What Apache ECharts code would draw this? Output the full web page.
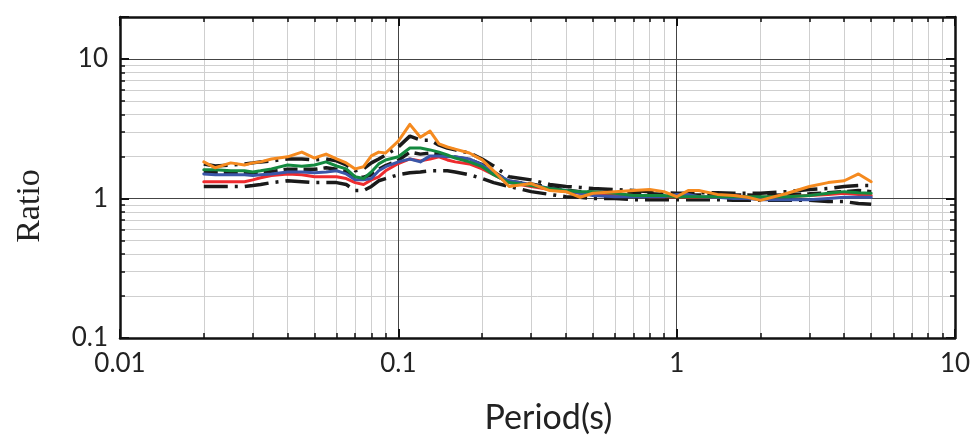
<!DOCTYPE html>
<html>
<head>
<meta charset="utf-8">
<script src="https://cdn.jsdelivr.net/npm/echarts@6/dist/echarts.min.js"></script>
<style>html,body{margin:0;padding:0;background:#fff}#c{width:974px;height:440px}</style>
</head>
<body>
<div id="c"></div>
<script>
const periods = [0.02,0.022,0.025,0.028,0.03,0.032,0.035,0.04,0.045,0.05,
  0.055,0.06,0.065,0.07,0.075,0.08,0.085,0.09,0.1,0.11,
  0.12,0.13,0.14,0.15,0.16,0.18,0.2,0.22,0.25,0.3,
  0.35,0.4,0.45,0.5,0.6,0.7,0.8,0.9,1,1.1,
  1.2,1.4,1.6,1.8,2,2.5,3,3.5,4,4.5,5];

const orange = [1.83,1.66,1.80,1.74,1.80,1.83,1.92,1.99,2.15,1.95,
  2.08,1.92,1.80,1.63,1.69,2.02,2.15,2.12,2.58,3.40,
  2.75,3.04,2.46,2.34,2.26,2.12,1.89,1.58,1.22,1.28,
  1.14,1.12,1.02,1.09,1.12,1.14,1.16,1.12,1.03,1.14,
  1.14,1.07,1.05,1.02,0.97,1.09,1.22,1.30,1.34,1.50,1.32];
const green = [1.61,1.61,1.58,1.58,1.55,1.58,1.63,1.74,1.70,1.74,
  1.83,1.71,1.63,1.43,1.39,1.55,1.77,1.89,1.99,2.30,
  2.30,2.23,2.15,2.05,1.95,1.83,1.69,1.48,1.30,1.24,
  1.18,1.14,1.12,1.12,1.09,1.05,1.05,1.05,1.03,1.03,
  1.03,1.03,1.03,1.03,1.03,1.03,1.05,1.09,1.12,1.10,1.09];
const blue = [1.50,1.48,1.48,1.48,1.46,1.48,1.50,1.55,1.55,1.53,
  1.55,1.58,1.50,1.36,1.36,1.39,1.58,1.69,1.83,1.92,
  1.83,2.02,2.02,1.99,1.99,1.92,1.74,1.53,1.34,1.26,
  1.18,1.14,1.09,1.05,1.03,1.03,1.03,1.03,1.07,1.07,
  1.03,1.02,1.00,1.00,0.98,0.98,0.98,1.00,1.02,1.02,1.02];
const red = [1.32,1.32,1.32,1.32,1.36,1.41,1.46,1.50,1.48,1.43,
  1.43,1.43,1.39,1.30,1.26,1.36,1.43,1.58,1.78,1.92,
  1.86,1.92,1.99,1.89,1.83,1.77,1.63,1.48,1.30,1.22,
  1.16,1.12,1.09,1.07,1.07,1.05,1.03,1.03,1.03,1.02,
  1.02,1.02,1.05,1.02,1.02,1.03,1.05,1.07,1.09,1.07,1.05];
const blackUpper = [1.77,1.71,1.74,1.77,1.80,1.83,1.86,1.92,1.92,1.89,
  1.92,1.86,1.74,1.58,1.63,1.80,1.92,2.05,2.34,2.80,
  2.62,2.62,2.41,2.30,2.23,2.12,1.92,1.71,1.43,1.36,
  1.26,1.22,1.20,1.18,1.16,1.14,1.12,1.10,1.09,1.09,
  1.10,1.10,1.09,1.09,1.09,1.12,1.16,1.18,1.22,1.24,1.24];
const blackMean = [1.55,1.54,1.53,1.53,1.52,1.53,1.56,1.62,1.62,1.62,
  1.66,1.62,1.56,1.42,1.42,1.48,1.62,1.72,1.88,2.15,
  2.08,2.12,2.08,2.02,1.98,1.90,1.75,1.55,1.33,1.27,
  1.20,1.15,1.12,1.11,1.10,1.09,1.08,1.07,1.06,1.06,
  1.06,1.06,1.06,1.06,1.05,1.06,1.08,1.10,1.12,1.14,1.12];
const blackLower = [1.22,1.22,1.22,1.22,1.24,1.26,1.30,1.34,1.32,1.30,
  1.30,1.30,1.26,1.14,1.14,1.22,1.34,1.39,1.48,1.53,
  1.55,1.58,1.58,1.58,1.55,1.48,1.39,1.30,1.22,1.12,
  1.07,1.03,1.02,1.00,1.00,0.98,0.98,0.98,0.98,0.98,
  0.98,0.98,0.97,0.97,0.97,0.97,0.97,0.95,0.95,0.92,0.91];

const xTickLabels = ['0.01','0.1','1','10'];
const yTickLabels = ['0.1','1','10'];

// minor tick positions (in decade exponent units) for decoration axes
function minorsLog(e0, e1, maxVal) {
  const out = [];
  for (let e = e0; e < e1; e++) {
    for (let k = 2; k <= 9; k++) {
      const v = k * Math.pow(10, e);
      if (maxVal === undefined || v < maxVal) out.push(Math.log10(v));
    }
  }
  return out;
}
const xMinor = minorsLog(-2, 1);
const yMinor = minorsLog(-1, 2, 20);

function decadeFmt(labels) {
  return function (v) {
    const s = String(Number(Number(v).toPrecision(6)));
    return labels.indexOf(s) >= 0 ? s : '';
  };
}

const FONT = 'Lato';
const chart = echarts.init(document.getElementById('c'), null, {renderer: 'canvas'});

function mk(arr) { return periods.map((p, i) => [p, arr[i]]); }

const colored = (name, color, arr) => ({
  name, type: 'line', xAxisIndex: 0, yAxisIndex: 0, data: mk(arr),
  showSymbol: false, symbol: 'none', silent: true, z: 5,
  lineStyle: {color, width: 3, cap: 'round', join: 'round'}
});
const blackLine = (name, arr, dash) => ({
  name, type: 'line', xAxisIndex: 0, yAxisIndex: 0, data: mk(arr),
  showSymbol: false, symbol: 'none', silent: true, z: 4,
  lineStyle: {color: '#1a1a1a', width: 3.5, type: dash, cap: 'butt'}
});

const option = {
  backgroundColor: '#ffffff',
  animation: false,
  grid: {left: 120, right: 19, top: 17, bottom: 99, containLabel: false},
  xAxis: [
    {
      type: 'log', logBase: 10, min: 0.01, max: 10, interval: 1, position: 'bottom', z: 3,
      axisLine: {show: true, onZero: false, lineStyle: {color: '#111', width: 2.5}},
      axisTick: {show: true, inside: true, length: 9, lineStyle: {color: '#111', width: 2}},
      axisLabel: {show: true, fontFamily: FONT, fontSize: 26, color: '#222', margin: 13, formatter: decadeFmt(xTickLabels)},
      splitLine: {show: true, lineStyle: {color: '#444', width: 1}},
      name: 'Period(s)', nameLocation: 'middle', nameGap: 63,
      nameTextStyle: {fontFamily: FONT, fontSize: 34, color: '#222', padding: [0, 0, 0, 22]}
    },
    {
      type: 'value', min: -2, max: 1, position: 'bottom', z: 1,
      axisLine: {show: false, onZero: false},
      axisTick: {show: true, inside: true, length: 5, customValues: xMinor, lineStyle: {color: '#111', width: 1.5}},
      axisLabel: {show: false},
      splitLine: {show: true, lineStyle: {color: '#cfcfcf', width: 1}}
    },
    {
      type: 'log', logBase: 10, min: 0.01, max: 10, interval: 1, position: 'top', z: 3,
      axisLine: {show: true, onZero: false, lineStyle: {color: '#111', width: 2.5}},
      axisTick: {show: true, inside: true, length: 9, lineStyle: {color: '#111', width: 2}},
      axisLabel: {show: false}, splitLine: {show: false}
    },
    {
      type: 'value', min: -2, max: 1, position: 'top', z: 1,
      axisLine: {show: false, onZero: false},
      axisTick: {show: true, inside: true, length: 5, customValues: xMinor, lineStyle: {color: '#111', width: 1.5}},
      axisLabel: {show: false}, splitLine: {show: false}
    }
  ],
  yAxis: [
    {
      type: 'log', logBase: 10, min: 0.1, max: 20, interval: 1, position: 'left', z: 3,
      axisLine: {show: true, onZero: false, lineStyle: {color: '#111', width: 2.5}},
      axisTick: {show: true, inside: true, length: 9, lineStyle: {color: '#111', width: 2}},
      axisLabel: {show: true, fontFamily: FONT, fontSize: 26, color: '#222', margin: 12, formatter: decadeFmt(yTickLabels)},
      splitLine: {show: true, lineStyle: {color: '#444', width: 1}}
    },
    {
      type: 'value', min: -1, max: Math.log10(20), position: 'left', z: 1,
      axisLine: {show: false, onZero: false},
      axisTick: {show: true, inside: true, length: 5, customValues: yMinor, lineStyle: {color: '#111', width: 1.5}},
      axisLabel: {show: false},
      splitLine: {show: true, lineStyle: {color: '#cfcfcf', width: 1}}
    },
    {
      type: 'log', logBase: 10, min: 0.1, max: 20, interval: 1, position: 'right', z: 3,
      axisLine: {show: true, onZero: false, lineStyle: {color: '#111', width: 2.5}},
      axisTick: {show: true, inside: true, length: 9, lineStyle: {color: '#111', width: 2}},
      axisLabel: {show: false}, splitLine: {show: false}
    },
    {
      type: 'value', min: -1, max: Math.log10(20), position: 'right', z: 1,
      axisLine: {show: false, onZero: false},
      axisTick: {show: true, inside: true, length: 5, customValues: yMinor, lineStyle: {color: '#111', width: 1.5}},
      axisLabel: {show: false}, splitLine: {show: false}
    }
  ],
  graphic: [{
    type: 'text', x: 30, y: 206, rotation: Math.PI / 2,
    style: {text: 'Ratio', fontFamily: 'Liberation Serif', fontSize: 34, fill: '#222', align: 'center', verticalAlign: 'middle'}
  }],
  series: [
    blackLine('Mean - σ', blackLower, [24, 7, 3, 7]),
    blackLine('Mean', blackMean, [14, 6]),
    blackLine('Mean + σ', blackUpper, [24, 7, 3, 7]),
    colored('Red', '#ee2b2e', red),
    colored('Blue', '#3a56a8', blue),
    colored('Green', '#13893f', green),
    colored('Orange', '#f58a1f', orange)
  ]
};
chart.setOption(option);
</script>
</body>
</html>
